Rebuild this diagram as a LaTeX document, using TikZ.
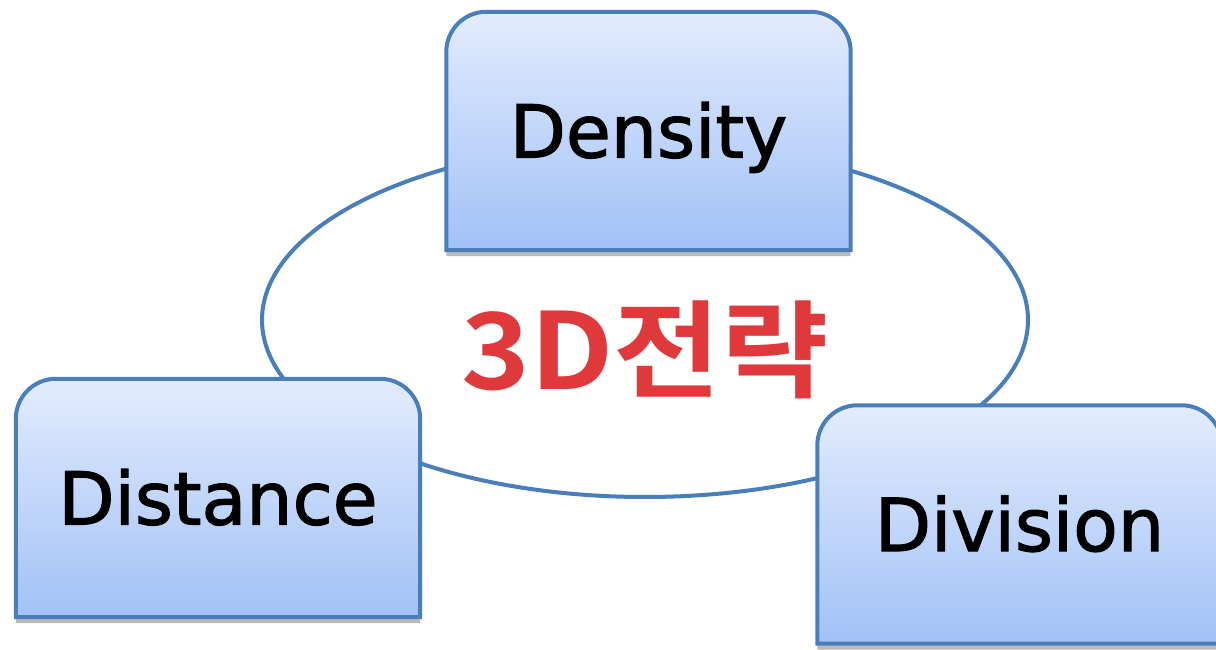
\documentclass[tikz,border=0pt]{standalone}
\usepackage{fontspec}
\setmainfont{DejaVu Sans}
\newfontfamily\tabfont{DejaVu Sans}[FakeBold=1.6]
\newfontfamily\cjk{Noto Sans CJK KR}[BoldFont={Noto Sans CJK KR Bold}]
\usetikzlibrary{shadows}
\pgfdeclarelayer{background}
\pgfsetlayers{background,main}
\definecolor{boxline}{HTML}{4A7EBB}
\definecolor{boxtop}{HTML}{E2ECFD}
\definecolor{boxbottom}{HTML}{A2C1F7}
\definecolor{titlered}{HTML}{E0393B}

\begin{document}
\begin{tikzpicture}[x=1pt, y=1pt,
    tabtext/.style={inner sep=0pt, minimum width=404pt, minimum height=238pt,
        text height=53pt, text depth=0pt, font=\tabfont\fontsize{73}{73}\selectfont},
    tabbox/.style={draw=boxline, line width=4pt, top color=boxtop, bottom color=boxbottom,
        drop shadow={shadow xshift=0pt, shadow yshift=-6pt, fill=black!60, opacity=0.45}},
    ring/.style={draw=boxline, line width=4pt},
    title/.style={inner sep=0pt, transform shape, xscale=1.1, text=titlered,
        font=\cjk\bfseries\fontsize{106}{106}\selectfont}]
    \useasboundingbox (0,0) rectangle (1216,649);

    \node[tabtext] (Density) at (648.5,518) {Density};
    \node[tabtext] (Distance) at (218,151) {Distance};
    \node[tabtext] (Division) at (1019.5,124.5) {Division};

    \begin{pgfonlayer}{background}
        \draw[ring] (645,329) ellipse [x radius=383, y radius=177];
        \foreach \n in {Density,Distance,Division}
            \draw[tabbox] (\n.west) [rounded corners=40pt] -- (\n.north west) -- (\n.north east)
                -- (\n.east) [sharp corners] -- (\n.south east) -- (\n.south west) -- cycle;
    \end{pgfonlayer}

    \node[title] (strategy) at (645,299) {3D전략};
\end{tikzpicture}
\end{document}
